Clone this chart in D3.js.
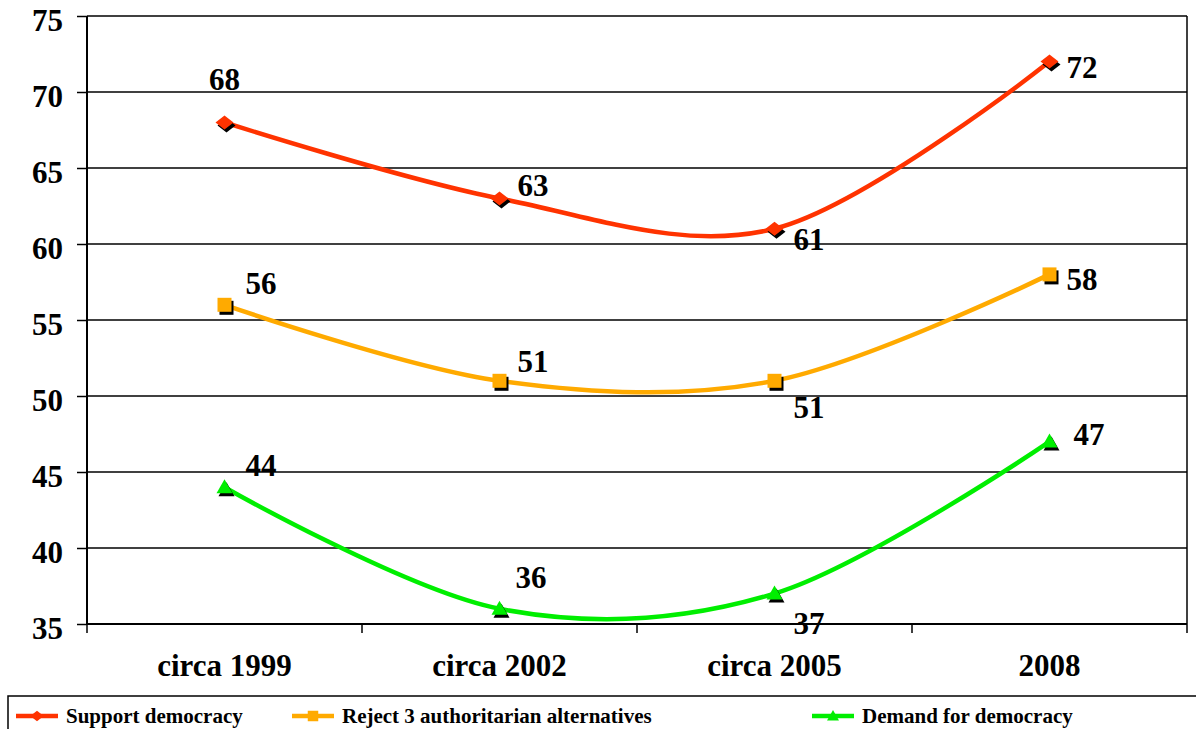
<!DOCTYPE html>
<html>
<head>
<meta charset="utf-8">
<script src="https://cdn.jsdelivr.net/npm/d3@7"></script>
<style>
  body { margin: 0; background: #fff; }
  svg text { font-family: "Liberation Serif", "Times New Roman", serif; font-weight: bold; }
</style>
</head>
<body>
<svg id="chart" width="1196" height="729"></svg>
<script>
// data
var categories = ["circa 1999", "circa 2002", "circa 2005", "2008"];
var supportDemocracy = [68, 63, 61, 72];
var rejectAlternatives = [56, 51, 51, 58];
var demandDemocracy = [44, 36, 37, 47];
var yTicks = [35, 40, 45, 50, 55, 60, 65, 70, 75];

// label offsets (dx, dy) relative to each point; dx 0 means centered
var supportOffsets = [[0, -32], [18, -2], [19, 21], [17, 16]];
var rejectOffsets = [[21, -11], [18, -9], [19, 37], [17, 16]];
var demandOffsets = [[21, -11], [16, -21], [19, 40], [24, 3]];

var series = [
  { name: "Support democracy", values: supportDemocracy, color: "#ff3300", marker: "diamond", offsets: supportOffsets },
  { name: "Reject 3 authoritarian alternatives", values: rejectAlternatives, color: "#ffaa00", marker: "square", offsets: rejectOffsets },
  { name: "Demand for democracy", values: demandDemocracy, color: "#00ee00", marker: "triangle", offsets: demandOffsets }
];

var svg = d3.select("#chart");
var plotLeft = 87, plotRight = 1187, plotTop = 16, plotBottom = 624;
var fontBig = 31;

var x = d3.scaleBand().domain(categories).range([plotLeft, plotRight]).padding(0);
var y = d3.scaleLinear().domain([35, 75]).range([plotBottom, plotTop]);

// gridlines
svg.append("g").selectAll("line").data(yTicks.slice(1)).join("line")
  .attr("x1", plotLeft).attr("x2", plotRight)
  .attr("y1", d => y(d)).attr("y2", d => y(d))
  .attr("stroke", "#000").attr("stroke-width", 1.5);

// right border
svg.append("line").attr("x1", plotRight).attr("x2", plotRight).attr("y1", plotTop).attr("y2", plotBottom)
  .attr("stroke", "#000").attr("stroke-width", 1.5);

// y axis
var yAxis = svg.append("g").attr("transform", "translate(" + plotLeft + ",0)")
  .call(d3.axisLeft(y).tickValues(yTicks).tickSize(10).tickPadding(14));
yAxis.select(".domain").attr("stroke-width", 2).attr("d", "M0," + plotTop + "V" + plotBottom);
yAxis.selectAll(".tick line").attr("stroke-width", 1.5);
yAxis.selectAll("text").attr("font-size", fontBig).attr("fill", "#000").attr("dy", "0.46em")
  .attr("font-family", "Liberation Serif").attr("font-weight", "bold");

// x axis
var xAxis = svg.append("g").attr("transform", "translate(0," + plotBottom + ")")
  .call(d3.axisBottom(x).tickSize(0).tickPadding(30));
xAxis.select(".domain").attr("stroke-width", 2).attr("d", "M" + plotLeft + ",0H" + plotRight);
xAxis.selectAll("text").attr("font-size", fontBig).attr("fill", "#000")
  .attr("font-family", "Liberation Serif").attr("font-weight", "bold");
// tick marks between categories
var boundaries = categories.map(c => x(c)).concat([plotRight]);
svg.append("g").selectAll("line").data(boundaries).join("line")
  .attr("x1", d => d).attr("x2", d => d)
  .attr("y1", plotBottom).attr("y2", plotBottom + 9)
  .attr("stroke", "#000").attr("stroke-width", 1.5);

var cx = c => x(c) + x.bandwidth() / 2;

var line = d3.line().curve(d3.curveCardinal.tension(0))
  .x((d, i) => cx(categories[i])).y(d => y(d));

// marker shapes, k scales them
function markerPath(type, k) {
  var p = d3.path();
  if (type === "diamond") {
    p.moveTo(-9 * k, 0); p.lineTo(0, -7 * k); p.lineTo(9 * k, 0); p.lineTo(0, 7 * k);
  } else if (type === "square") {
    p.rect(-7 * k, -7 * k, 14 * k, 14 * k);
    return p.toString();
  } else {
    p.moveTo(-8 * k, 6 * k); p.lineTo(0, -8 * k); p.lineTo(8 * k, 6 * k);
  }
  p.closePath();
  return p.toString();
}

series.forEach(function(s) {
  svg.append("path").datum(s.values)
    .attr("d", line).attr("fill", "none")
    .attr("stroke", s.color).attr("stroke-width", 4.5);

  var g = svg.append("g");
  // shadow
  g.selectAll("path.shadow").data(s.values).join("path").attr("class", "shadow")
    .attr("transform", (d, i) => "translate(" + (cx(categories[i]) + 2) + "," + (y(d) + 3) + ")")
    .attr("d", markerPath(s.marker, 1)).attr("fill", "#000");
  g.selectAll("path.mk").data(s.values).join("path").attr("class", "mk")
    .attr("transform", (d, i) => "translate(" + cx(categories[i]) + "," + y(d) + ")")
    .attr("d", markerPath(s.marker, 1)).attr("fill", s.color);

  g.selectAll("text").data(s.values).join("text")
    .attr("x", (d, i) => cx(categories[i]) + s.offsets[i][0])
    .attr("y", (d, i) => y(d) + s.offsets[i][1])
    .attr("text-anchor", (d, i) => s.offsets[i][0] === 0 ? "middle" : "start")
    .attr("font-size", fontBig).attr("fill", "#000")
    .text(d => d);
});

// legend
svg.append("rect").attr("x", 8).attr("y", 696).attr("width", 1200).attr("height", 60)
  .attr("fill", "none").attr("stroke", "#000").attr("stroke-width", 1.5);

var legendX = [16, 292, 812];
var legend = svg.append("g").selectAll("g").data(series).join("g")
  .attr("transform", (d, i) => "translate(" + legendX[i] + ",716)");
legend.append("line").attr("x1", 0).attr("x2", 42).attr("y1", 0).attr("y2", 0)
  .attr("stroke", d => d.color).attr("stroke-width", 4.5);
legend.append("path").attr("transform", "translate(21,0)")
  .attr("d", d => markerPath(d.marker, 0.75)).attr("fill", d => d.color);
legend.append("text").attr("x", 50).attr("y", 7).attr("font-size", 21).attr("fill", "#000")
  .text(d => d.name);
</script>
</body>
</html>
